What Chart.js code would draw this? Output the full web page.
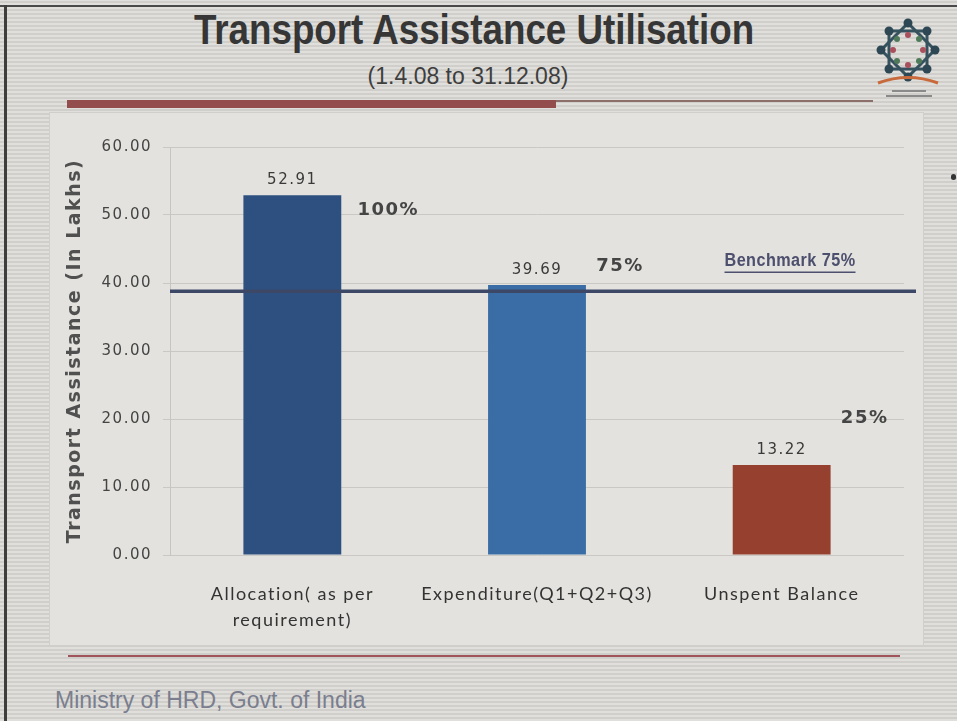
<!DOCTYPE html>
<html>
<head>
<meta charset="utf-8">
<script src="https://cdn.jsdelivr.net/npm/chart.js@4.4.1/dist/chart.umd.min.js"></script>
<style>
  body {
    margin: 0; width: 957px; height: 721px; overflow: hidden; position: relative;
    background: #d7d6d2;
    background-image: repeating-linear-gradient(0deg, rgba(255,255,255,0.22) 0 2px, rgba(0,0,0,0.035) 2px 4px);
    font-family: "Liberation Sans", Arial, sans-serif;
  }
  .abs { position: absolute; }
  #frameTop { left: 0; top: 5px; width: 957px; height: 2px; background: #4a4a4a; }
  #frameLeft { left: 4px; top: 5px; width: 3px; height: 716px; background: #3e3e3e; }
  #title { left: 0; top: 9px; width: 948px; text-align: center; font-weight: bold; font-size: 42px; line-height: 42px; color: #363636; transform: scaleX(0.875); }
  #sub { left: 0; top: 65px; width: 936px; text-align: center; font-size: 23px; line-height: 23px; color: #3e3e3e; }
  #ruleThick { left: 67px; top: 100px; width: 489px; height: 8px; background: #924d4c; }
  #ruleThin { left: 556px; top: 100px; width: 317px; height: 2px; background: #8c6e6a; }
  #box { left: 50px; top: 113px; width: 873px; height: 532px; background: #e3e2de; box-shadow: 0 0 0 1px #d0cfcb; }
  #ruleBottom { left: 68px; top: 655px; width: 832px; height: 2px; background: #a0555a; }
  #footer { left: 55px; top: 689px; font-size: 23px; line-height: 23px; color: #7a7e8e; }
  #dot { left: 951px; top: 174px; width: 5px; height: 6px; border-radius: 3px; background: #333; }
</style>
</head>
<body>
<div id="frameTop" class="abs"></div>
<div id="frameLeft" class="abs"></div>
<div id="title" class="abs">Transport Assistance Utilisation</div>
<div id="sub" class="abs">(1.4.08 to 31.12.08)</div>
<svg class="abs" style="left:872px;top:12px" width="72" height="92">
  <g transform="translate(36,38)" fill="none" stroke="#35525e" stroke-width="3">
    <rect x="-19" y="-19" width="38" height="38"/>
    <rect x="-19" y="-19" width="38" height="38" transform="rotate(45)"/>
  </g>
  <g transform="translate(36,38)">
    <circle cx="0" cy="-27" r="4.5" fill="#2d4854"/><circle cx="19" cy="-19" r="4.5" fill="#2d4854"/>
    <circle cx="27" cy="0" r="4.5" fill="#2d4854"/><circle cx="19" cy="19" r="4.5" fill="#2d4854"/>
    <circle cx="0" cy="27" r="4.5" fill="#2d4854"/><circle cx="-19" cy="19" r="4.5" fill="#2d4854"/>
    <circle cx="-27" cy="0" r="4.5" fill="#2d4854"/><circle cx="-19" cy="-19" r="4.5" fill="#2d4854"/>
    <circle cx="0" cy="-15" r="3" fill="#a8505c"/><circle cx="15" cy="0" r="3" fill="#a8505c"/>
    <circle cx="0" cy="15" r="3" fill="#a8505c"/><circle cx="-15" cy="0" r="3" fill="#a8505c"/>
    <circle cx="11" cy="-11" r="3" fill="#4f7a5a"/><circle cx="11" cy="11" r="3" fill="#4f7a5a"/>
    <circle cx="-11" cy="11" r="3" fill="#4f7a5a"/><circle cx="-11" cy="-11" r="3" fill="#4f7a5a"/>
  </g>
  <path d="M6 71 Q36 60 66 71" stroke="#c96a3c" stroke-width="3" fill="none"/>
  <rect x="20" y="78" width="34" height="2" fill="#8a8a8a"/>
  <rect x="14" y="83" width="46" height="2" fill="#8a8a8a"/>
</svg>
<div id="ruleThick" class="abs"></div>
<div id="ruleThin" class="abs"></div>
<div id="box" class="abs"><canvas id="chart" width="873" height="532"></canvas></div>
<div id="ruleBottom" class="abs"></div>
<div id="footer" class="abs">Ministry of HRD, Govt. of India</div>
<div id="dot" class="abs"></div>

<script>
// values
const categories = [['Allocation( as per', 'requirement)'], 'Expenditure(Q1+Q2+Q3)', 'Unspent Balance'];
const amounts = [52.91, 39.69, 13.22];
const shares = ['100%', '75%', '25%'];
const yTicks = [0, 10, 20, 30, 40, 50, 60];
const benchmark = 38.8;          // the drawn line sits just under 40
const benchmarkLabel = 'Benchmark 75%';

const barColors = ['#2d5080', '#3a6da5', '#96402f'];
// where the % notes sit, relative to each bar top
const shareOffsets = [[96, 15], [83, -19], [83, -47]];

// spaced-out lettering like the original slide
const spacing = {
  id: 'spacing',
  beforeLayout(chart) { chart.ctx.letterSpacing = '1.5px'; },
  beforeDraw(chart) { chart.ctx.letterSpacing = '1.5px'; }
};

const notes = {
  id: 'notes',
  afterDatasetsDraw(chart) {
    const {ctx, chartArea: a, scales: {y}} = chart;
    const bars = chart.getDatasetMeta(0).data;
    ctx.save();
    // benchmark line
    const by = y.getPixelForValue(benchmark);
    ctx.strokeStyle = '#3c4866';
    ctx.lineWidth = 3.5;
    ctx.beginPath();
    ctx.moveTo(a.left, by);
    ctx.lineTo(a.right + 12, by);
    ctx.stroke();

    ctx.letterSpacing = '1.5px';
    ctx.textAlign = 'center';
    ctx.textBaseline = 'middle';
    bars.forEach((b, i) => {
      ctx.font = '15px "DejaVu Sans"';
      ctx.fillStyle = '#3a3a3a';
      ctx.fillText(amounts[i].toFixed(2), b.x, b.y - 15);
      ctx.font = 'bold 18px "DejaVu Sans"';
      ctx.fillStyle = '#454545';
      ctx.fillText(shares[i], b.x + shareOffsets[i][0], b.y + shareOffsets[i][1]);
    });

    // benchmark caption, condensed and underlined
    ctx.letterSpacing = '0.5px';
    ctx.font = 'bold 18px "Liberation Sans", Arial, sans-serif';
    ctx.fillStyle = '#4d4f6e';
    const lx = a.right - 114, ly = by - 30;
    const w = ctx.measureText(benchmarkLabel).width;
    ctx.translate(lx, ly);
    ctx.scale(0.9, 1);
    ctx.fillText(benchmarkLabel, 0, 0);
    ctx.strokeStyle = '#4d4f6e';
    ctx.lineWidth = 1.5;
    ctx.beginPath();
    ctx.moveTo(-w / 2, 11);
    ctx.lineTo(w / 2, 11);
    ctx.stroke();
    ctx.restore();
  }
};

new Chart(document.getElementById('chart'), {
  type: 'bar',
  data: {
    labels: categories,
    datasets: [{
      data: amounts,
      backgroundColor: barColors,
      barPercentage: 0.4,
      categoryPercentage: 1
    }]
  },
  options: {
    responsive: false,
    animation: false,
    layout: {padding: {top: 34, right: 19, left: 0, bottom: 0}},
    plugins: {legend: {display: false}, tooltip: {enabled: false}},
    scales: {
      x: {
        grid: {display: false, drawTicks: false},
        border: {display: false},
        ticks: {
          font: {family: 'Lato', size: 18, lineHeight: 1.45},
          color: '#333333',
          padding: 26,
          maxRotation: 0,
          autoSkip: false
        },
        afterFit(s) { s.height = 90; }
      },
      y: {
        min: yTicks[0],
        max: yTicks[yTicks.length - 1],
        afterBuildTicks(s) { s.ticks = yTicks.map(v => ({value: v})); },
        grid: {color: '#c9c8c4', tickLength: 7},
        border: {color: '#c6c5c1'},
        ticks: {
          font: {family: 'DejaVu Sans', size: 15},
          color: '#444444',
          padding: 11,
          callback: v => v.toFixed(2)
        },
        title: {
          display: true,
          text: 'Transport Assistance (In Lakhs)',
          font: {family: 'DejaVu Sans', size: 19, weight: 'bold'},
          color: '#505050',
          padding: {top: 14, bottom: 0}
        },
        afterFit(s) { s.width = 120; }
      }
    }
  },
  plugins: [spacing, notes]
});
</script>
</body>
</html>
